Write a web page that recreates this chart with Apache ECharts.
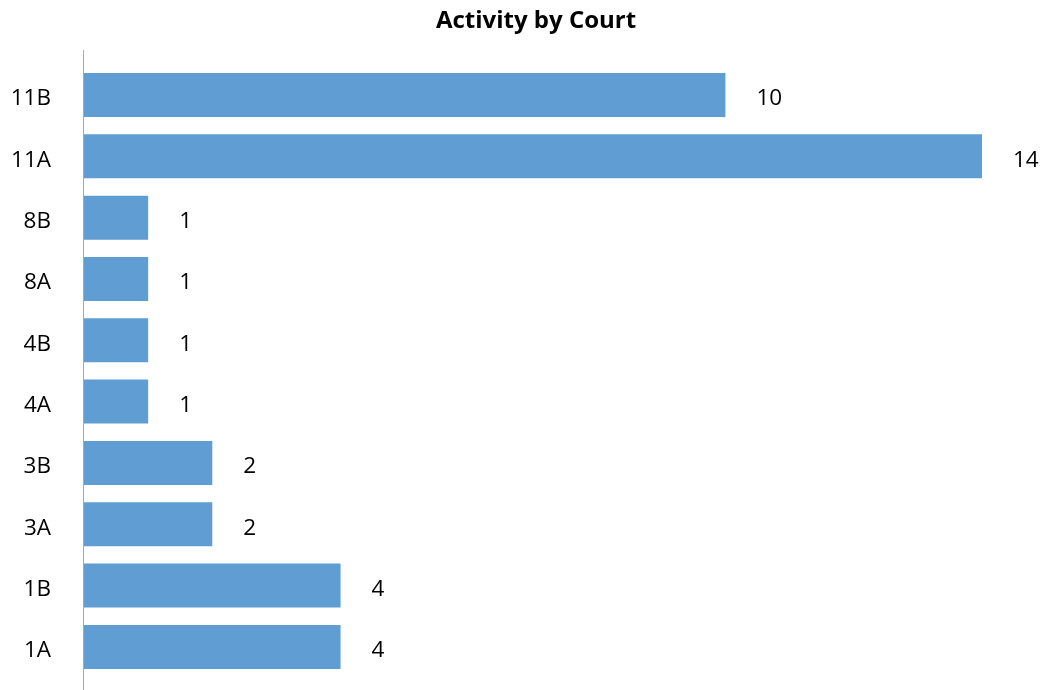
<!DOCTYPE html>
<html>
<head>
<meta charset="utf-8">
<script src="https://cdn.jsdelivr.net/npm/echarts@6/dist/echarts.min.js"></script>
<style>html,body{margin:0;padding:0;background:#fff;}#chart{width:1047px;height:690px;}</style>
</head>
<body>
<div id="chart"></div>
<script>
const categories = ['1A', '1B', '3A', '3B', '4A', '4B', '8A', '8B', '11A', '11B'];
const values = [4, 4, 2, 2, 1, 1, 1, 1, 14, 10];
const titleText = 'Activity by Court';

const chart = echarts.init(document.getElementById('chart'));
chart.setOption({
  animation: false,
  backgroundColor: '#ffffff',
  title: {
    text: titleText,
    left: 531,
    top: 4,
    textAlign: 'center',
    textStyle: { fontFamily: 'Open Sans', fontWeight: 'bold', fontSize: 24, color: '#000' }
  },
  grid: { left: 84, top: 64.3, width: 898, height: 613.3, containLabel: false },
  xAxis: {
    type: 'value', min: 0, max: 14, show: false
  },
  yAxis: {
    type: 'category',
    data: categories,
    axisLine: { show: false },
    axisTick: { show: false },
    axisLabel: {
      formatter: '{a|{value}}',
      margin: 33,
      rich: { a: { fontFamily: 'Open Sans', fontSize: 22.5, color: '#000', padding: [8, 0, 0, 0] } }
    }
  },
  graphic: [{
    type: 'line',
    shape: { x1: 83.5, y1: 50, x2: 83.5, y2: 690 },
    style: { stroke: '#a9a6ad', lineWidth: 1 },
    z: 10
  }],
  series: [{
    type: 'bar',
    data: values,
    barWidth: 44,
    itemStyle: { color: '#5f9dd3' },
    label: {
      show: true, position: 'right', distance: 31, offset: [0, 4],
      fontFamily: 'Open Sans', fontSize: 22.5, color: '#000'
    }
  }]
});
</script>
</body>
</html>
